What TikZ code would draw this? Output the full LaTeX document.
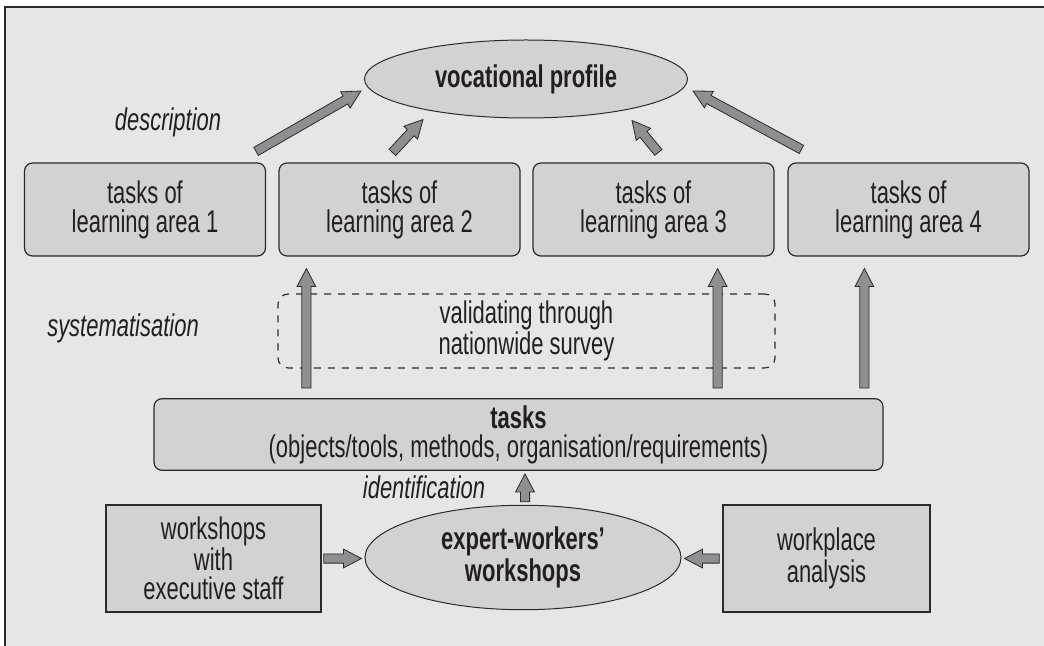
\documentclass[tikz,border=0pt]{standalone}
\usepackage{fontspec}
\setmainfont{Liberation Sans}[FakeStretch=0.7]
\usepackage{xcolor}
\usetikzlibrary{shapes,calc}

\definecolor{bgcol}{HTML}{E6E6E6}
\definecolor{boxcol}{HTML}{D2D2D3}
\definecolor{arrcol}{HTML}{8F8F91}
\definecolor{linecol}{HTML}{2B2B2B}
\definecolor{txtcol}{HTML}{231F20}

\newcommand{\figfont}{\fontsize{15.7}{14.5}\selectfont}

\tikzstyle{taskbox} = [draw=linecol, fill=boxcol, line width=0.6pt, rounded corners=4pt, minimum width=120.5pt, minimum height=46.5pt, align=center, text=txtcol]
\tikzstyle{plainbox} = [draw=linecol, fill=boxcol, line width=0.7pt, minimum height=53.5pt, align=center, text=txtcol]
\tikzstyle{oval} = [draw=linecol, fill=boxcol, line width=0.5pt, ellipse, align=center, text=txtcol, font=\figfont\bfseries]
\tikzstyle{label} = [text=txtcol, font=\figfont\itshape]
\tikzstyle{blockarr} = [draw=linecol, fill=arrcol, line width=0.4pt, line join=miter]

% block arrow from #1 to #2
\newcommand{\blockarrow}[2]{%
  \coordinate (neck) at ($(#2)!9pt!(#1)$);
  \draw[blockarr] ($(#1)!2.3pt!90:(#2)$) -- ($(neck)!2.3pt!90:(#2)$) -- ($(neck)!4.7pt!90:(#2)$)
    -- (#2) -- ($(neck)!4.7pt!-90:(#2)$) -- ($(neck)!2.3pt!-90:(#2)$) -- ($(#1)!2.3pt!-90:(#2)$) -- cycle;
}

\begin{document}
\begin{tikzpicture}[x=0.5pt, y=-0.5pt, font=\figfont]
        \useasboundingbox (0,0) rectangle (1044,646);
        \fill[white] (0,0) rectangle (1044,646);
        \fill[bgcol] (5,7) rectangle (1044,646);
        \draw[linecol, line width=0.8pt] (5,646) -- (5,7) -- (1044,7);

        % top
        \node[oval, minimum width=161.5pt, minimum height=39pt] (profile) at (526,79) {vocational profile};
        \node[taskbox] (area1) at (145,209.5) {tasks of\\learning area 1};
        \node[taskbox] (area2) at (399.5,209.5) {tasks of\\learning area 2};
        \node[taskbox] (area3) at (653.5,209.5) {tasks of\\learning area 3};
        \node[taskbox] (area4) at (908.5,209.5) {tasks of\\learning area 4};

        % middle
        \node[draw=linecol, line width=0.6pt, dash pattern=on 3.5pt off 3.5pt, rounded corners=5pt,
              minimum width=248.5pt, minimum height=32pt, align=center, text=txtcol] (survey) at (526.5,331)
              {validating through\\nationwide survey};
        \node[taskbox, minimum width=364.5pt, minimum height=32.5pt] (tasks) at (518.5,434.5)
              {\textbf{tasks}\\(objects/tools, methods, organisation/requirements)};

        % bottom
        \node[plainbox, minimum width=107.5pt] (exec) at (213.5,558.5) {workshops\\with\\executive staff};
        \node[oval, minimum width=158pt, minimum height=45.5pt] (expert) at (523,557.5) {expert-workers'\\workshops};
        \node[plainbox, minimum width=103.5pt] (analysis) at (826.5,558.5) {workplace\\analysis};

        \node[label] (desc) at (168,122) {description};
        \node[label] (syst) at (123,328) {systematisation};
        \node[label] (ident) at (424,487) {identification};

        % Draw Arrows
        \coordinate (a1) at ($(area1.north east)+(-10,-11)$);
        \coordinate (p1) at ($(profile.west)+(-3,12)$);
        \coordinate (a2) at ($(area2.north west)+(114,-10)$);
        \coordinate (p2) at ($(profile.south)+(-103,1)$);
        \coordinate (a3) at ($(area3.north west)+(126,-10)$);
        \coordinate (p3) at ($(profile.south)+(106,2)$);
        \coordinate (a4) at ($(area4.north west)+(14,-13)$);
        \coordinate (p4) at ($(profile.east)+(5,12)$);
        \blockarrow{a1}{p1}
        \blockarrow{a2}{p2}
        \blockarrow{a3}{p3}
        \blockarrow{a4}{p4}

        \coordinate (u2) at ($(area2.south west)+(28,12)$);
        \coordinate (u3) at ($(area3.south east)+(-57,12)$);
        \coordinate (u4) at ($(area4.south west)+(77,12)$);
        \coordinate (t2) at ($(tasks.north -| u2)+(0,-10)$);
        \coordinate (t3) at ($(tasks.north -| u3)+(0,-10)$);
        \coordinate (t4) at ($(tasks.north -| u4)+(0,-10)$);
        \blockarrow{t2}{u2}
        \blockarrow{t3}{u3}
        \blockarrow{t4}{u4}

        \coordinate (e1) at ($(expert.north)+(2,-3)$);
        \coordinate (e2) at ($(tasks.south -| e1)+(0,3)$);
        \blockarrow{e1}{e2}

        \coordinate (w1) at ($(exec.east)+(2,0)$);
        \coordinate (w2) at ($(w1 -| expert.west)+(-3,0)$);
        \blockarrow{w1}{w2}
        \coordinate (r1) at ($(analysis.west)+(-3,0)$);
        \coordinate (r2) at ($(r1 -| expert.east)+(3,0)$);
        \blockarrow{r1}{r2}

    \end{tikzpicture}
\end{document}
